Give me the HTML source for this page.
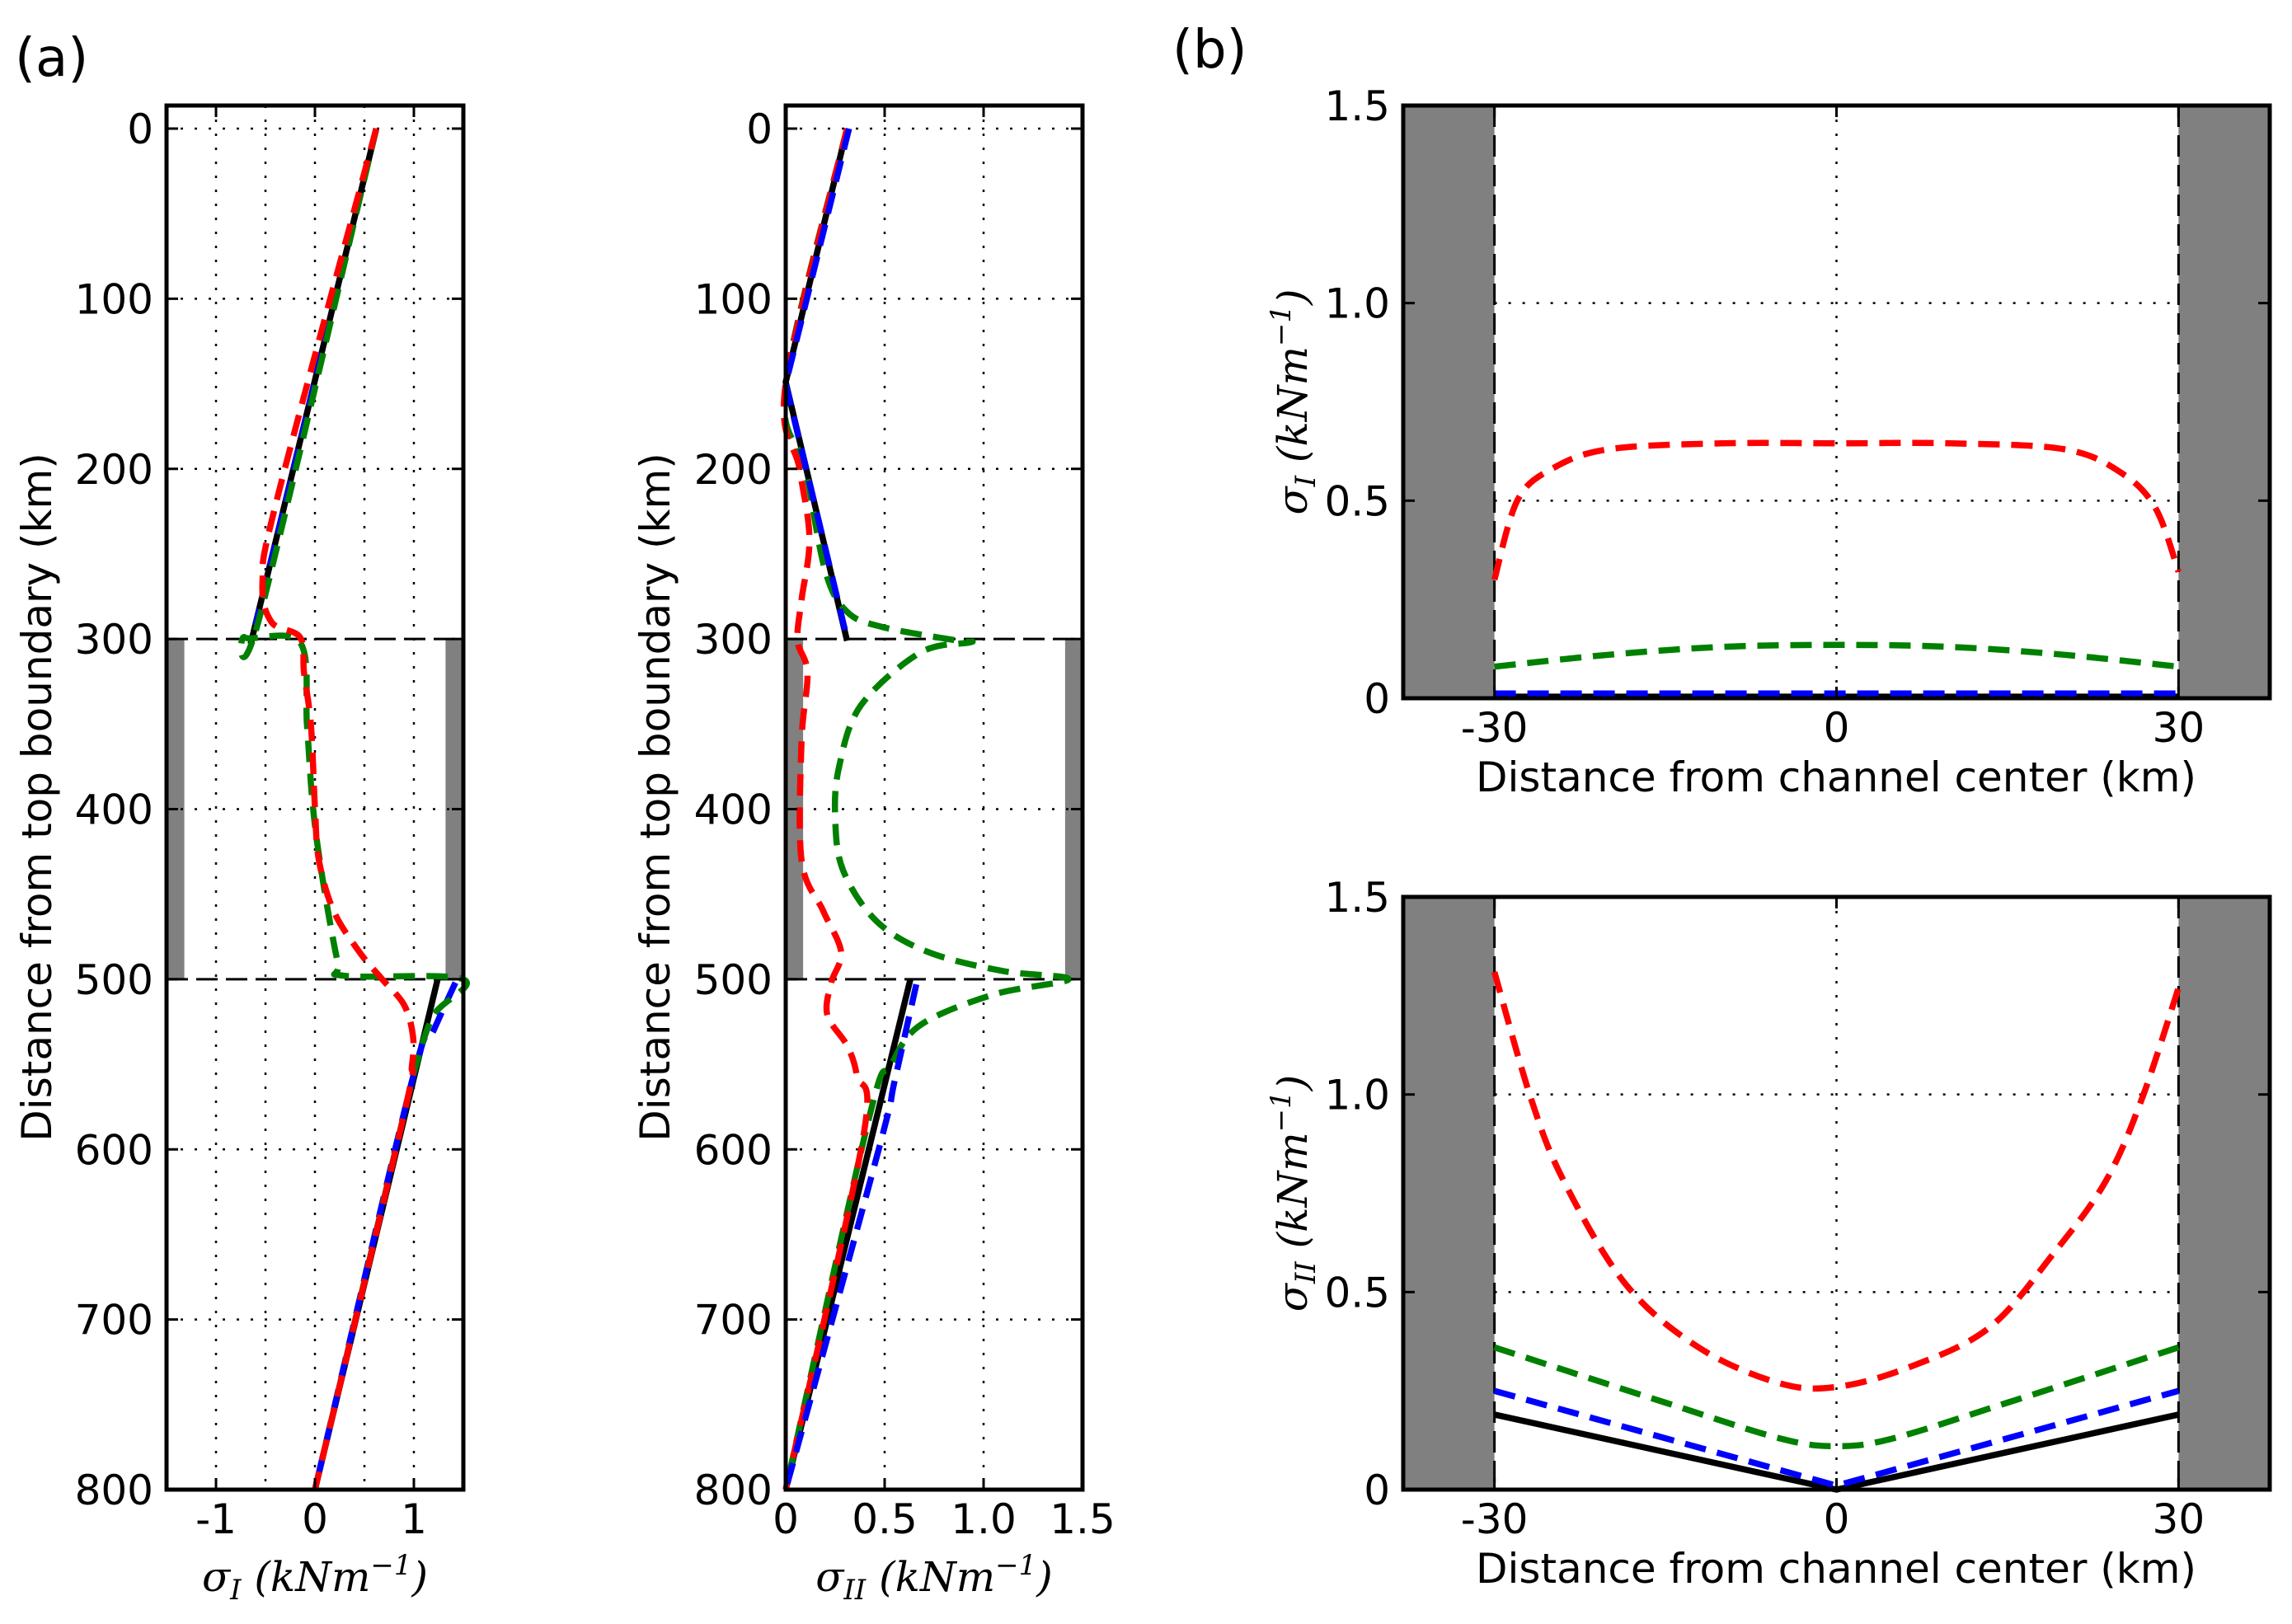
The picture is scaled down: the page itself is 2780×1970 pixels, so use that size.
<!DOCTYPE html>
<html><head><meta charset="utf-8"><style>
html,body{margin:0;padding:0;background:#fff;}
svg{display:block;font-family:"DejaVu Sans","Liberation Sans",sans-serif;}
.math{font-family:"DejaVu Serif","Liberation Serif",serif;font-style:italic;}
</style></head><body>
<svg id="fig" width="2780" height="1970" viewBox="0 0 2780 1970" xmlns="http://www.w3.org/2000/svg">
<text x="18" y="92" font-size="64">(a)</text>
<text x="1422" y="82" font-size="64">(b)</text>
</svg>
<script>
// ---- Panel a1: sigma_I vs depth ----
const a1BlackTopX=[0.62,-0.65]; const a1BlackTopY=[0,303];
const a1BlackBotX=[1.24,0]; const a1BlackBotY=[500,800];
const a1BlueX=[0.62,-0.6]; const a1BlueY=[0,292];
const a1BlueBotX=[1.42,1.2,0.98,0]; const a1BlueBotY=[502,530,560,800];
const a1RedX=[0.62,-0.38,-0.53,-0.44,-0.15,-0.11,-0.04,0,0.04,0.19,0.45,0.68,0.9,0.99,0.98,0.89,0];
const a1RedY=[0,217,266,290,299,320,351,399,430,460,484,500,515,533,551,582,800];
const a1GreenX=[0.62,-0.55,-0.71,-0.15,-0.08,-0.02,0.08,0.23,0.3,1.5,1.2,1.02,0.89,0];
const a1GreenY=[0,285,299,302,351,399,442,490,498,500,521,551,582,800];
// ---- Panel a2: sigma_II vs depth ----
const a2BlackX=[0.31,0,0.31]; const a2BlackY=[0,149,301];
const a2BlackBotX=[0.63,0]; const a2BlackBotY=[500,800];
const a2BlueX=[0.32,0,0.3]; const a2BlueY=[0,150,295];
const a2BlueBotX=[0.66,0.55,0.47,0]; const a2BlueBotY=[503,560,600,800];
const a2RedX=[0.31,0,0.07,0.12,0.08,0.06,0.11,0.08,0.08,0.19,0.28,0.23,0.21,0.31,0.36,0.39,0];
const a2RedY=[0,150,200,241,277,301,320,360,430,460,484,502,521,539,557,594,800];
const a2GreenX=[0.31,0,0.1,0.2,0.31,0.49,0.87,0.93,0.68,0.38,0.27,0.25,0.29,0.46,0.72,1.09,1.43,1.05,0.68,0.53,0.42,0];
const a2GreenY=[0,150,200,260,284,293,301,302,308,339,375,405,436,466,484,495,500,509,527,551,582,800];
// ---- Panel b1: sigma_I across channel ----
const b1RedX=[-30,-28,-25,-20,-10,0,10,20,25,28,30];
const b1RedY=[0.3,0.5,0.58,0.63,0.645,0.645,0.645,0.63,0.57,0.48,0.32];
const b1GreenX=[-30,-20,-10,0,10,20,30];
const b1GreenY=[0.08,0.11,0.13,0.135,0.13,0.11,0.08];
const b1BlueX=[-30,30]; const b1BlueY=[0.012,0.012];
const b1BlackX=[-30,30]; const b1BlackY=[0.004,0.004];
// ---- Panel b2: sigma_II across channel ----
const b2RedX=[-30,-26.8,-23.9,-18.5,-12.1,-5.1,0,6.4,13.4,19.1,23.6,26.8,30];
const b2RedY=[1.31,0.99,0.78,0.52,0.36,0.27,0.26,0.31,0.41,0.6,0.78,0.99,1.27];
const b2GreenX=[-30,-15,-5,0,5,15,30]; const b2GreenY=[0.36,0.22,0.13,0.11,0.13,0.22,0.36];
const b2BlueX=[-30,0,30]; const b2BlueY=[0.25,0.01,0.25];
const b2BlackX=[-30,0,30]; const b2BlackY=[0.19,0,0.19];
// ticks
const aDepthTicks=[0,100,200,300,400,500,600,700,800];
const a1XTicks=[-1,0,1]; const a1XTickLabels=["-1","0","1"]; const a1XGrid=[-1,-0.5,0,0.5,1];
const a2XTicks=[0,0.5,1.0,1.5]; const a2XTickLabels=["0","0.5","1.0","1.5"]; const a2XGrid=[0.5,1.0];
const bXTicks=[-30,0,30]; const bXTickLabels=["-30","0","30"];
const bYTicks=[0,0.5,1.0,1.5]; const bYTickLabels=["0","0.5","1.0","1.5"]; const bYGrid=[0.5,1.0];

const NS="http://www.w3.org/2000/svg";
const svg=document.getElementById('fig');
function mk(tag,attrs,parent){const e=document.createElementNS(NS,tag);for(const k in attrs)e.setAttribute(k,attrs[k]);(parent||svg).appendChild(e);return e;}
function lin(d0,d1,p0,p1){return v=>p0+(v-d0)*(p1-p0)/(d1-d0);}
function poly(g,xs,ys,sx,sy,color,dash,name,smooth){
  const P=xs.map((x,i)=>[sx(x),sy(ys[i])]);
  let d='M'+P[0][0].toFixed(1)+','+P[0][1].toFixed(1);
  for(let i=0;i<P.length-1;i++){
    if(smooth){
      const p0=P[Math.max(i-1,0)],p1=P[i],p2=P[i+1],p3=P[Math.min(i+2,P.length-1)];
      const t=0.5/3;
      const c1=[p1[0]+(p2[0]-p0[0])*t,p1[1]+(p2[1]-p0[1])*t];
      const c2=[p2[0]-(p3[0]-p1[0])*t,p2[1]-(p3[1]-p1[1])*t];
      d+=' C'+c1[0].toFixed(1)+','+c1[1].toFixed(1)+' '+c2[0].toFixed(1)+','+c2[1].toFixed(1)+' '+p2[0].toFixed(1)+','+p2[1].toFixed(1);
    } else d+=' L'+P[i+1][0].toFixed(1)+','+P[i+1][1].toFixed(1);
  }
  const p=mk('path',{d:d,fill:'none',stroke:color,'stroke-width':7.5,'stroke-linejoin':'round'},g);
  if(dash)p.setAttribute('stroke-dasharray','26 14');
  
  
}
function frame(g,L,T,R,B){
  const r=mk('rect',{x:L,y:T,width:R-L,height:B-T,fill:'none',stroke:'#000','stroke-width':5},g);
  
  
}
function gridV(g,x,T,B){mk('line',{x1:x,y1:T,x2:x,y2:B,stroke:'#000','stroke-width':2.5,'stroke-dasharray':'3 14'},g);}
function gridH(g,y,L,R){mk('line',{x1:L,y1:y,x2:R,y2:y,stroke:'#000','stroke-width':2.5,'stroke-dasharray':'3 14'},g);}
function tickLabel(g,x,y,txt,anchor,name){
  const t=mk('text',{x:x,y:y,'font-size':50,'text-anchor':anchor},g);t.textContent=txt;
  
  
}
function tickMarks(g,xs,ys,L,T,R,B){
  xs.forEach(x=>{mk('line',{x1:x,y1:B,x2:x,y2:B-14,stroke:'#000','stroke-width':3},g);mk('line',{x1:x,y1:T,x2:x,y2:T+14,stroke:'#000','stroke-width':3},g);});
  ys.forEach(y=>{mk('line',{x1:L,y1:y,x2:L+14,y2:y,stroke:'#000','stroke-width':3},g);mk('line',{x1:R,y1:y,x2:R-14,y2:y,stroke:'#000','stroke-width':3},g);});
}
function sigmaLabel(g,x,y,sub,rot,name){
  const t=mk('text',{x:x,y:y,'font-size':50,'text-anchor':'middle',class:'math'},g);
  if(rot)t.setAttribute('transform','rotate(-90 '+x+' '+y+')');
  t.innerHTML='σ<tspan font-size="34" dy="10">'+sub+'</tspan><tspan dy="-10">  (kNm</tspan><tspan font-size="34" dy="-20">−1</tspan><tspan dy="20">)</tspan>';
  
  
}

// ---------- Panel a ----------
function panelA(L,R,xd0,xd1,opts){
  const T=128,B=1807;
  const sx=lin(xd0,xd1,L,R), sy=lin(0,800,156,1807);
  const g=mk('g',{});
  
  
  mk('rect',{x:sx(xd0),y:sy(300),width:sx(xd0+opts.bw)-sx(xd0),height:sy(500)-sy(300),fill:'#808080'},g);
  mk('rect',{x:sx(xd1-opts.bw),y:sy(300),width:sx(xd1)-sx(xd1-opts.bw),height:sy(500)-sy(300),fill:'#808080'},g);
  opts.grid.forEach(v=>gridV(g,sx(v),T,B));
  aDepthTicks.forEach(v=>{ if(v!==300&&v!==500&&v!==800) gridH(g,sy(v),L,R);});
  [300,500].forEach(v=>mk('line',{x1:L,y1:sy(v),x2:R,y2:sy(v),stroke:'#000','stroke-width':3,'stroke-dasharray':'26 10'},g));
  opts.series.forEach(s=>poly(g,s[0],s[1],sx,sy,s[2],s[3],s[4],s[5]));
  tickMarks(g,opts.ticks.map(sx),aDepthTicks.map(sy),L,T,R,B);
  frame(g,L,T,R,B);
  aDepthTicks.forEach(v=>tickLabel(g,L-16,sy(v)+18,String(v),'end','y-tick-label'));
  opts.ticks.forEach((v,i)=>tickLabel(g,sx(v),1860,opts.labels[i],'middle','x-tick-label'));
  const yl=mk('text',{x:opts.ylx,y:967,'font-size':50,'text-anchor':'middle',transform:'rotate(-90 '+opts.ylx+' 967)'},g);
  yl.textContent='Distance from top boundary (km)';
  
  
  sigmaLabel(g,(L+R)/2,1930,opts.sub,false,'x-axis-title');
}
panelA(202,562,-1.5,1.5,{name:'panel-a-sigma-I',bw:0.18,grid:a1XGrid,ticks:a1XTicks,labels:a1XTickLabels,ylx:62,sub:'I',
 series:[[a1BlackTopX,a1BlackTopY,'#000',false,'black-series-top'],[a1BlackBotX,a1BlackBotY,'#000',false,'black-series-bottom'],
 [a1BlueX,a1BlueY,'#0000ff',true,'blue-series-top'],[a1BlueBotX,a1BlueBotY,'#0000ff',true,'blue-series-bottom',true],
 [a1GreenX,a1GreenY,'#008000',true,'green-series',true],[a1RedX,a1RedY,'#ff0000',true,'red-series',true]]});
panelA(953,1313,0,1.5,{name:'panel-a-sigma-II',bw:0.088,grid:a2XGrid,ticks:a2XTicks,labels:a2XTickLabels,ylx:812,sub:'II',
 series:[[a2BlackX,a2BlackY,'#000',false,'black-series-top'],[a2BlackBotX,a2BlackBotY,'#000',false,'black-series-bottom'],
 [a2GreenX,a2GreenY,'#008000',true,'green-series',true],[a2RedX,a2RedY,'#ff0000',true,'red-series',true],
 [a2BlueX,a2BlueY,'#0000ff',true,'blue-series-top'],[a2BlueBotX,a2BlueBotY,'#0000ff',true,'blue-series-bottom',true]]});

// ---------- Panel b ----------
function panelB(T,B,opts){
  const L=1702,R=2753;
  const sx=lin(-38,38,L,R), sy=lin(0,1.5,B,T);
  const g=mk('g',{});
  
  
  mk('rect',{x:L,y:T,width:sx(-30)-L,height:B-T,fill:'#808080'},g);
  mk('rect',{x:sx(30),y:T,width:R-sx(30),height:B-T,fill:'#808080'},g);
  gridV(g,sx(0),T,B);
  bYGrid.forEach(v=>gridH(g,sy(v),sx(-30),sx(30)));
  [-30,30].forEach(v=>mk('line',{x1:sx(v),y1:T,x2:sx(v),y2:B,stroke:'#000','stroke-width':3,'stroke-dasharray':'26 10'},g));
  opts.series.forEach(s=>poly(g,s[0],s[1],sx,sy,s[2],s[3],s[4],s[5]));
  tickMarks(g,bXTicks.map(sx),bYTicks.map(sy),L,T,R,B);
  frame(g,L,T,R,B);
  bYTicks.forEach((v,i)=>tickLabel(g,L-16,sy(v)+18,bYTickLabels[i],'end','y-tick-label'));
  bXTicks.forEach((v,i)=>tickLabel(g,sx(v),B+53,bXTickLabels[i],'middle','x-tick-label'));
  const xl=mk('text',{x:2227,y:opts.xly,'font-size':50,'text-anchor':'middle'},g);
  xl.textContent='Distance from channel center (km)';
  
  
  sigmaLabel(g,1585,(T+B)/2,opts.sub,true,'y-axis-title');
}
panelB(128,847,{name:'panel-b-sigma-I',xly:960,sub:'I',
 series:[[b1RedX,b1RedY,'#ff0000',true,'red-series',true],[b1GreenX,b1GreenY,'#008000',true,'green-series',true],
 [b1BlackX,b1BlackY,'#000',false,'black-series'],[b1BlueX,b1BlueY,'#0000ff',true,'blue-series']]});
panelB(1088,1807,{name:'panel-b-sigma-II',xly:1920,sub:'II',
 series:[[b2RedX,b2RedY,'#ff0000',true,'red-series',true],[b2GreenX,b2GreenY,'#008000',true,'green-series',true],
 [b2BlackX,b2BlackY,'#000',false,'black-series'],[b2BlueX,b2BlueY,'#0000ff',true,'blue-series']]});
</script>
</body></html>
